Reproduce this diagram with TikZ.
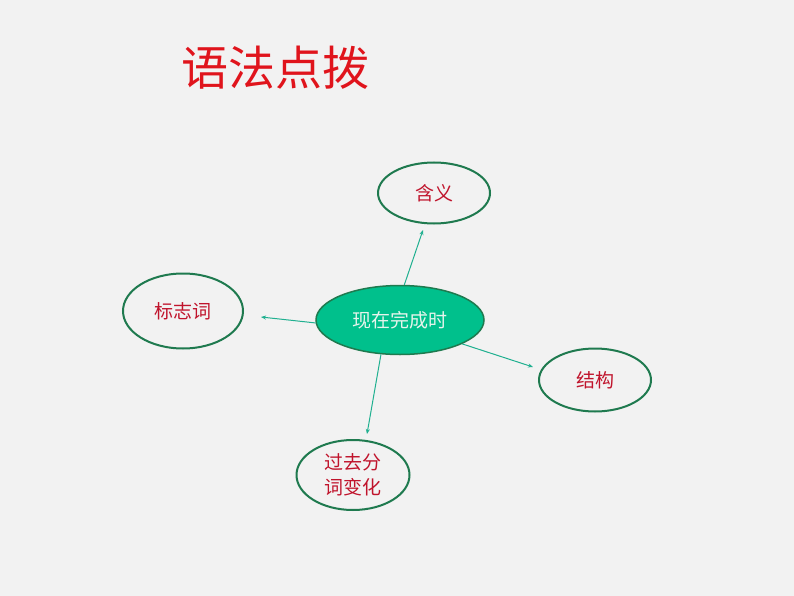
\documentclass[tikz,border=0pt]{standalone}
\usepackage{fontspec}
\newfontfamily\cjk{Noto Sans CJK SC}
\usetikzlibrary{shapes.geometric,arrows.meta}
\definecolor{bg}{HTML}{F2F2F2}
\definecolor{titlered}{HTML}{E0141C}
\definecolor{nodered}{HTML}{C0142C}
\definecolor{rimgreen}{HTML}{1F7A4F}
\definecolor{hubfill}{HTML}{00C08C}
\definecolor{hubtext}{HTML}{E6F4EC}
\definecolor{arrowteal}{HTML}{20B090}
\tikzset{
  leaf/.style={ellipse, draw=rimgreen, line width=2pt, inner sep=0pt,
    text=nodered, font=\cjk\fontsize{19}{25}\selectfont, align=center},
  hub/.style={ellipse, draw=rimgreen, fill=hubfill, line width=1.5pt, inner sep=0pt,
    text=hubtext, font=\cjk\fontsize{19}{25}\selectfont,
    minimum width=168pt, minimum height=69pt},
  link/.style={draw=arrowteal, line width=1pt, -{Stealth[length=5pt,width=4pt]}}
}
\begin{document}
\begin{tikzpicture}[x=1pt,y=-1pt]
\useasboundingbox (0,0) rectangle (794,596);
\fill[bg] (0,0) rectangle (794,596);
\node[text=titlered, font=\cjk\fontsize{47}{47}\selectfont, inner sep=0pt] (title) at (275,68) {语法点拨};
\node[hub] (c) at (400,320) {现在完成时};
\node[leaf, minimum width=112pt, minimum height=61pt] (hanyi) at (434,193) {含义};
\node[leaf, minimum width=112pt, minimum height=63pt] (jiegou) at (595,380) {结构};
\node[leaf, minimum width=120pt, minimum height=75pt] (biaozhi) at (183,311) {标志词};
\node[leaf, minimum width=113pt, minimum height=70pt] (guoqu) at (353,475) {过去分\\词变化};
\coordinate (tipup) at (423,230);
\coordinate (tipright) at (533,367);
\coordinate (tipleft) at (261,317);
\coordinate (tipdown) at (367,434);
\draw[link] (c.83) -- (tipup);
\draw[link] (c.-21) -- (tipright);
\draw[link] (c.182) -- (tipleft);
\draw[link] (c.241) -- (tipdown);
\end{tikzpicture}
\end{document}
